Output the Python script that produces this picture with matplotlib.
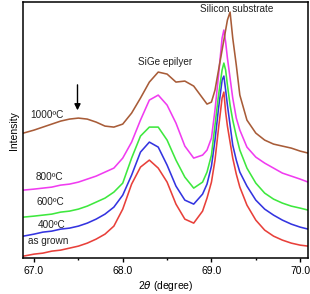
import numpy as np
import matplotlib
matplotlib.use('Agg')
import matplotlib.pyplot as plt
from matplotlib.ticker import MultipleLocator

plt.rcParams['font.family'] = ['Liberation Sans', 'DejaVu Sans']

# 2-theta grid (degrees)
two_theta = [66.88, 67.0, 67.1, 67.2, 67.3, 67.4, 67.5, 67.6, 67.7, 67.8,
             67.9, 68.0, 68.1, 68.2, 68.3, 68.4, 68.5, 68.6, 68.7, 68.8,
             68.9, 68.95, 69.0, 69.04, 69.08, 69.12, 69.14, 69.16, 69.18, 69.21,
             69.24, 69.28, 69.32, 69.4, 69.5, 69.6, 69.7, 69.8, 69.9, 70.0,
             70.09]

# intensities in arbitrary units (curves are offset, as in the figure)
as_grown = [2, 4, 5, 7, 8, 10, 12, 15, 19, 24,
            32, 49, 74, 91, 98, 90, 76, 54, 39, 35,
            47, 60, 76, 98, 130, 160, 166, 146, 132, 116,
            100, 84, 71, 53, 38, 28, 22, 18, 15, 13,
            12]
c400 = [22, 24, 26, 27, 29, 30, 32, 35, 39, 44,
        51, 63, 83, 106, 116, 111, 93, 72, 58, 54,
        64, 74, 92, 118, 150, 178, 182, 168, 153, 133,
        113, 98, 86, 72, 58, 49, 43, 38, 34, 31,
        29]
c600 = [41, 42, 43, 44, 46, 47, 49, 52, 56, 60,
        66, 75, 100, 122, 131, 131, 118, 98, 81, 70,
        76, 86, 103, 133, 163, 188, 195, 188, 173, 153,
        138, 122, 108, 90, 75, 65, 59, 55, 52, 50,
        48]
c800 = [68, 69, 70, 71, 73, 74, 76, 79, 82, 86,
        90, 100, 116, 138, 158, 163, 153, 135, 112, 100,
        103, 108, 120, 148, 183, 220, 228, 216, 200, 180,
        160, 140, 128, 111, 101, 95, 90, 85, 82, 79,
        76]
c1000 = [125, 128, 131, 134, 137, 139, 140, 139, 136, 132,
         131, 134, 145, 160, 176, 186, 184, 176, 177, 172,
         160, 154, 156, 168, 188, 208, 218, 228, 238, 246,
         220, 193, 163, 138, 125, 118, 114, 112, 110, 107,
         105]

series = [
    (as_grown, '#e8403a', 'as grown', 66.93, 17),
    (c400, '#3434e0', '400ºC', 67.04, 33),
    (c600, '#3ee83e', '600ºC', 67.03, 56),
    (c800, '#f03cf0', '800ºC', 67.02, 81),
    (c1000, '#a85c38', '1000ºC', 66.96, 143),
]

fig = plt.figure(figsize=(3.1, 2.94), dpi=100)
ax = fig.add_axes([0.074, 0.122, 0.92, 0.871])

for ys, col, lab, tx, ty in series:
    ax.plot(two_theta, ys, color=col, lw=1.15)
    ax.text(tx, ty, lab, fontsize=7.2, va='center', ha='left', color='#222222')

ax.text(68.48, 196, 'SiGe epilyer', fontsize=7.2, ha='center', va='center', color='#222222')
ax.text(69.28, 249, 'Silicon substrate', fontsize=7.2, ha='center', va='center', color='#222222')
ax.annotate('', xy=(67.49, 145), xytext=(67.49, 176),
            arrowprops=dict(arrowstyle='-|>', color='black', lw=1.0, mutation_scale=9))

ax.set_xlim(66.875, 70.09)
ax.set_ylim(0, 256)
ax.set_yticks([])
ax.xaxis.set_major_locator(MultipleLocator(1.0))
ax.xaxis.set_minor_locator(MultipleLocator(0.5))
ax.set_xticks([67, 68, 69, 70])
ax.set_xticklabels(['67.0', '68.0', '69.0', '70.0'])
ax.tick_params(axis='x', which='major', direction='out', length=3, width=1, labelsize=7.5, pad=3)
ax.tick_params(axis='x', which='minor', direction='out', length=1.5, width=1)
for s in ax.spines.values():
    s.set_linewidth(1.1)

ax.set_xlabel(r'2$\theta$ (degree)', fontsize=7.5, labelpad=2)
ax.set_ylabel('Intensity', fontsize=7.5, labelpad=3)

fig.savefig('out.png', dpi=100)
